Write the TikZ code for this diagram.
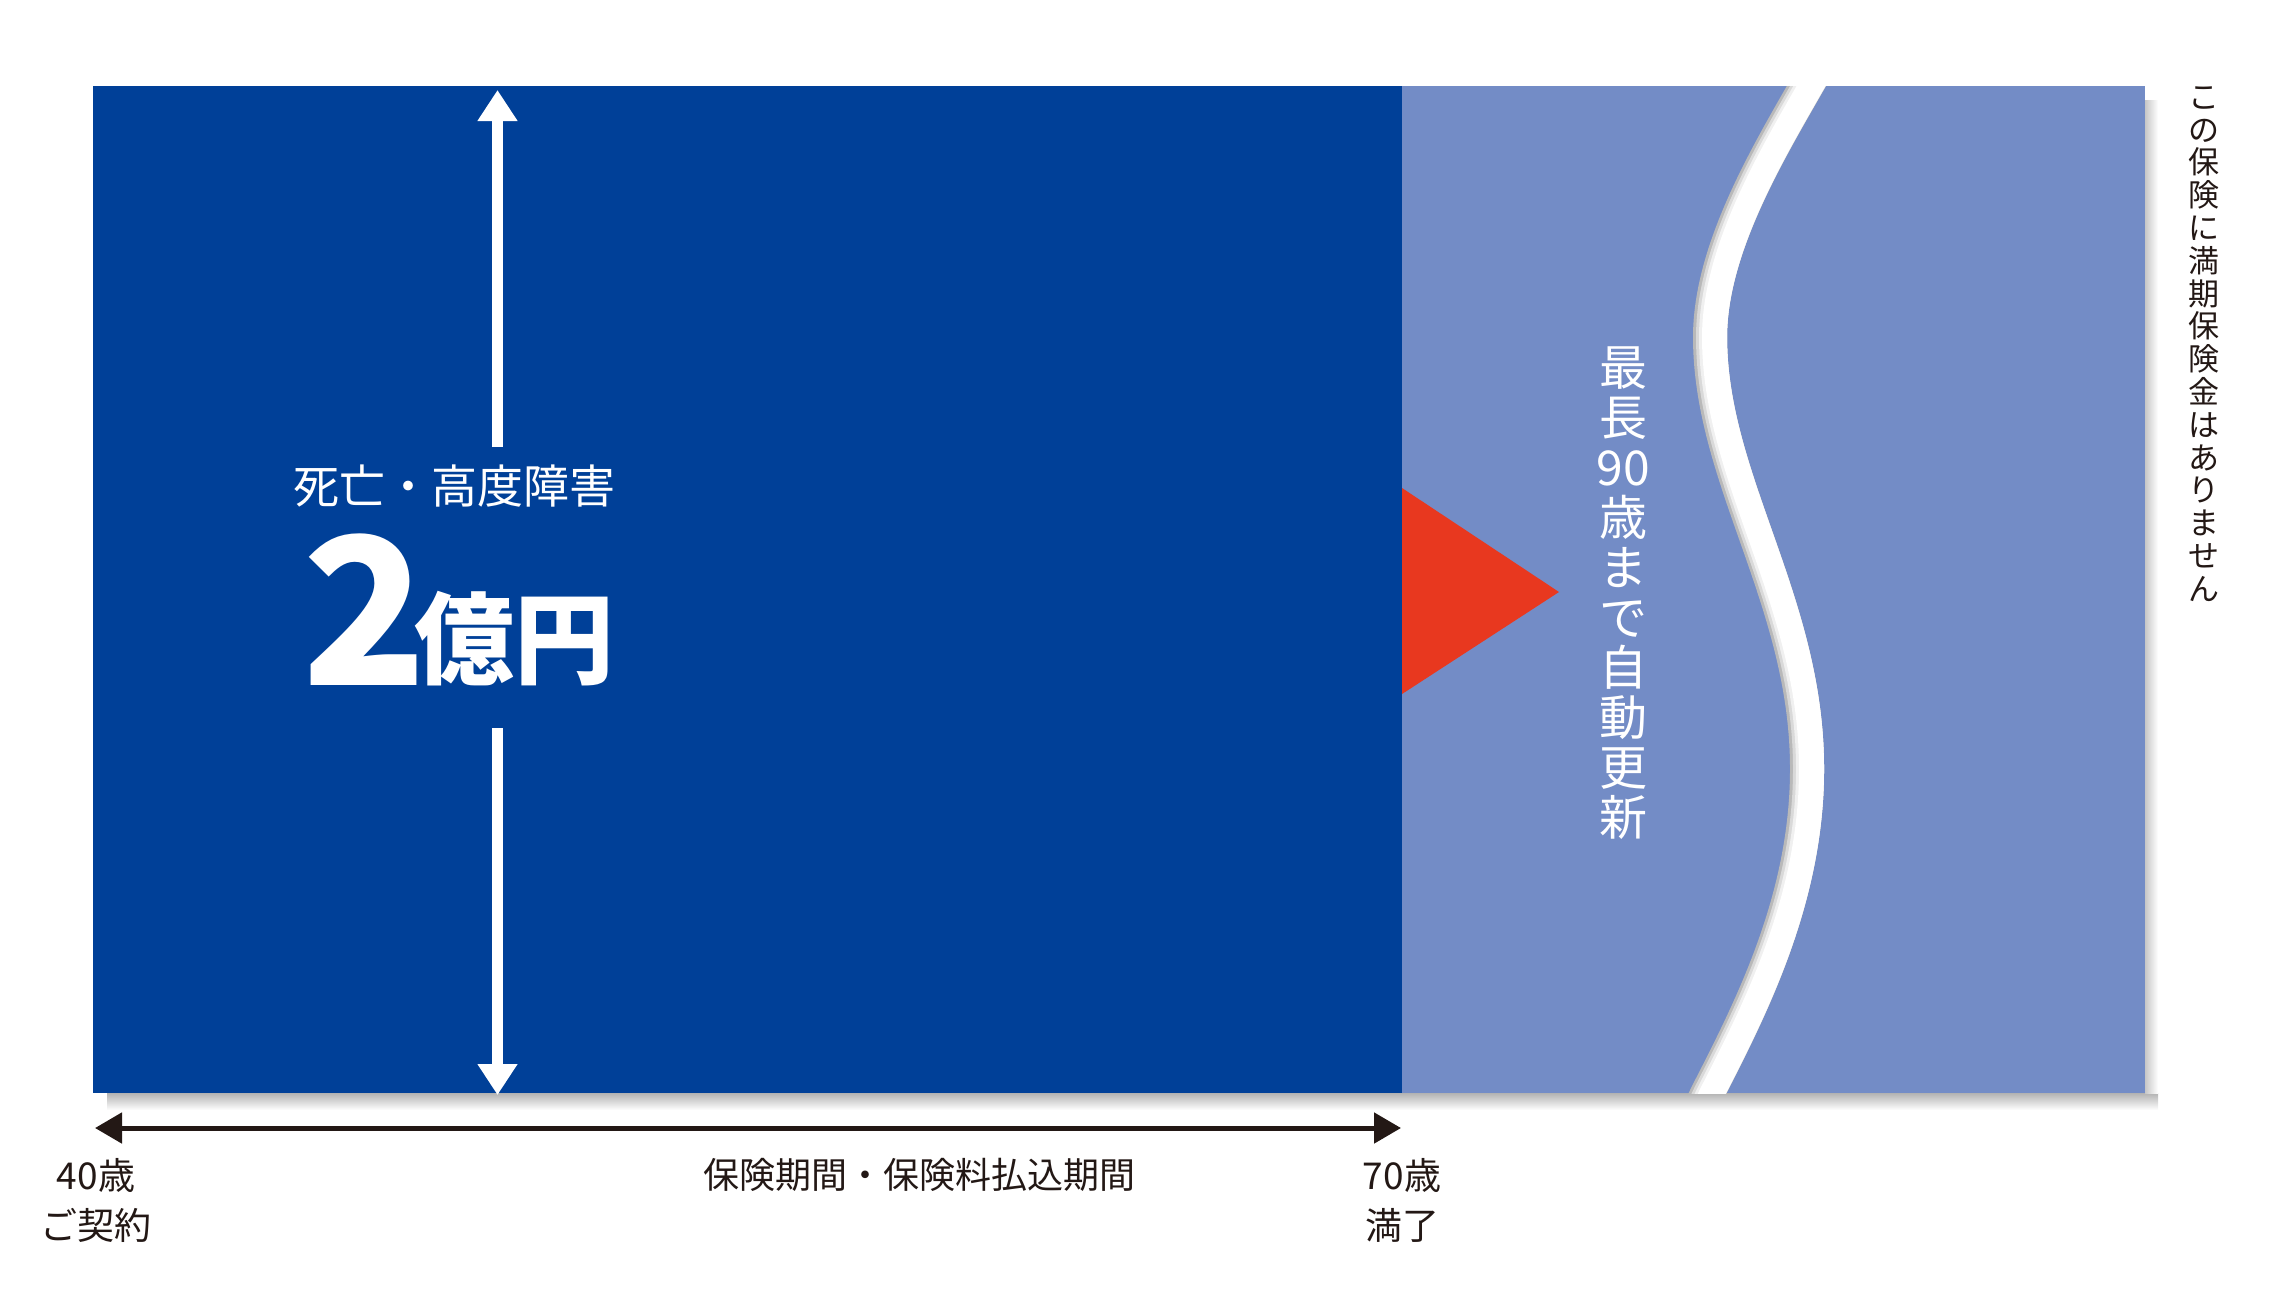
\documentclass[tikz,border=0pt]{standalone}
\usepackage{fontspec}
\setmainfont{Noto Sans CJK JP}
\usetikzlibrary{arrows.meta}
\definecolor{darkblue}{RGB}{0,64,152}
\definecolor{lightblue}{RGB}{115,140,198}
\definecolor{redtri}{RGB}{232,56,31}
\definecolor{inkblack}{RGB}{35,24,21}
\tikzset{
  whitearrow/.style={white, line width=11pt, -{Triangle[length=31pt,width=38pt]}},
  timearrow/.style={inkblack, line width=5pt, {Triangle[length=27pt,width=30pt]}-{Triangle[length=27pt,width=30pt]}},
  vtext/.style={align=center, inner sep=0pt},
  lbl/.style={inkblack, align=center, inner sep=0pt}
}
\begin{document}
\begin{tikzpicture}[x=1pt,y=-1pt]
\useasboundingbox (0,0) rectangle (2296,1307);
% drop shadow
\shade[top color=black!30, bottom color=white] (107,1093) rectangle (2158,1110);
\shade[left color=black!22, right color=white] (2145,100) rectangle (2158,1093);
% blocks
\fill[darkblue] (93,86) rectangle (1402,1093);
\fill[lightblue] (1402,86) rectangle (2145,1093);
% wave gap
\begin{scope}
\clip (1402,86) rectangle (2145,1093);
\foreach \c/\w/\s in {gray!55/34/0, gray!30/31/1.5, gray!12/28/3, white/25/4.5}{
  \draw[\c, line width=\w pt, xshift=\s pt] (1830,45) -- (1807,85)
    .. controls (1767,155) and (1710,250) .. (1710,337)
    .. controls (1710,480) and (1807,600) .. (1807,769)
    .. controls (1807,900) and (1750,1010) .. (1707,1094) -- (1690,1130);
}
\end{scope}
% red triangle
\fill[redtri] (1402,488) -- (1559,592) -- (1402,694) -- cycle;
% white double arrow
\coordinate (upS) at (497.5,447);
\coordinate (upT) at (497.5,90);
\coordinate (dnS) at (497.5,728);
\coordinate (dnT) at (497.5,1095);
\draw[whitearrow] (upS) -- (upT);
\draw[whitearrow] (dnS) -- (dnT);
% texts in dark block
\node[white, inner sep=0pt, font=\fontsize{46}{50}\selectfont] (death) at (454,486) {死亡・高度障害};
\node[white, inner sep=0pt, anchor=base west, font=\fontsize{205}{205}\selectfont\bfseries] (two) at (302,685) {2};
\node[white, inner sep=0pt, anchor=base west, font=\fontsize{100}{100}\selectfont\bfseries] (oku) at (414,676) {億円};
% vertical texts
\node[vtext, white, font=\fontsize{48}{50}\selectfont] (renew) at (1623,593) {最\\長\\90\\歳\\ま\\で\\自\\動\\更\\新};
\node[vtext, inkblack, font=\fontsize{31}{32.8}\selectfont] (note) at (2204,344) {こ\\の\\保\\険\\に\\満\\期\\保\\険\\金\\は\\あ\\り\\ま\\せ\\ん};
% time axis
\coordinate (tL) at (95,1128);
\coordinate (tR) at (1401,1128);
\draw[timearrow] (tL) -- (tR);
\node[lbl, font=\fontsize{37}{50}\selectfont] (start) at (96,1200) {40歳\\ご契約};
\node[lbl, font=\fontsize{37}{50}\selectfont] (end) at (1402,1200) {70歳\\満了};
\node[lbl, font=\fontsize{36}{40}\selectfont] (period) at (919,1175) {保険期間・保険料払込期間};
\end{tikzpicture}
\end{document}
